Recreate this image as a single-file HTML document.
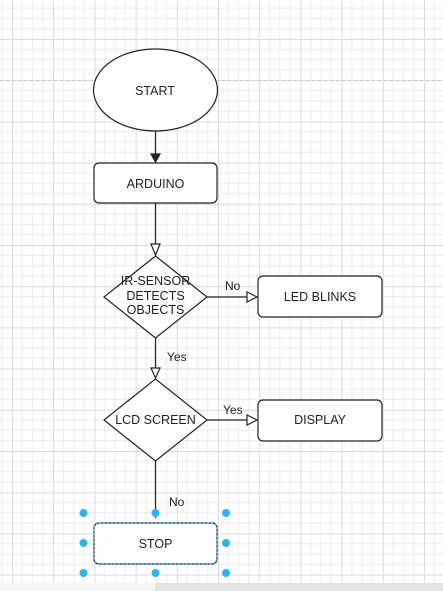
<!DOCTYPE html>
<html><head><style>body{margin:0;background:#fff}svg{display:block}</style></head><body>
<svg width="443" height="591" xmlns="http://www.w3.org/2000/svg" font-family="Liberation Sans, sans-serif" font-size="12" fill="#222">
<defs>
<pattern id="g" x="12" y="39" width="41.2" height="41.2" patternUnits="userSpaceOnUse">
<path d="M10.3 0V41.2M20.6 0V41.2M30.9 0V41.2M0 10.3H41.2M0 20.6H41.2M0 30.9H41.2" stroke="#ececec" stroke-width="1" fill="none"/>
<path d="M0.5 0V41.2M0 0.5H41.2" stroke="#dcdcdc" stroke-width="1" fill="none"/>
</pattern>
</defs>
<rect width="443" height="591" fill="url(#g)"/>
<line x1="0" y1="80.5" x2="443" y2="80.5" stroke="#ccc" stroke-dasharray="3,3"/>
<rect x="155" y="583" width="288" height="8" fill="#e3e3e3"/>
<rect x="0" y="583" width="155" height="8" fill="#f7f7f7"/>
<g stroke="#222" stroke-width="1.2" fill="#fff">
<ellipse cx="155.5" cy="90" rx="62" ry="41"/>
<rect x="94" y="163" width="123" height="40" rx="5"/>
<polygon points="155.5,256 207,297 155.5,338 104,297"/>
<rect x="258" y="276" width="124" height="41" rx="5"/>
<polygon points="155.5,379 207,420 155.5,461 104,420"/>
<rect x="258" y="400" width="124" height="41" rx="5"/>
<rect x="94" y="523" width="123" height="41" rx="5"/>
<line x1="155.5" y1="131" x2="155.5" y2="154"/>
<line x1="155.5" y1="203" x2="155.5" y2="244"/>
<line x1="207" y1="297" x2="247" y2="297"/>
<line x1="155.5" y1="338" x2="155.5" y2="368"/>
<line x1="207" y1="420" x2="247" y2="420"/>
<line x1="155.5" y1="461" x2="155.5" y2="518"/>
</g>
<g stroke="#222" stroke-width="1.2">
<polygon points="151,154 160,154 155.5,162" fill="#222"/>
<polygon points="151,244 160,244 155.5,255" fill="#fff"/>
<polygon points="247,292 247,302 257,297" fill="#fff"/>
<polygon points="151,368 160,368 155.5,378" fill="#fff"/>
<polygon points="247,415 247,425 257,420" fill="#fff"/>
</g>
<rect x="94" y="523" width="123" height="41" rx="5" fill="none" stroke="#29b6f6" stroke-dasharray="2,2"/>
<g fill="#29b6f6">
<circle cx="83.5" cy="513" r="4"/><circle cx="155.5" cy="513" r="4"/><circle cx="226" cy="513" r="4"/>
<circle cx="83.5" cy="543" r="4"/><circle cx="226" cy="543" r="4"/>
<circle cx="83.5" cy="573" r="4"/><circle cx="155.5" cy="573" r="4"/><circle cx="226" cy="573" r="4"/>
</g>
<g text-anchor="middle" font-size="12.5">
<text x="155" y="95">START</text>
<text x="155.5" y="188">ARDUINO</text>
<text x="155.5" y="285">IR-SENSOR</text>
<text x="155.5" y="300">DETECTS</text>
<text x="155.5" y="314">OBJECTS</text>
<text x="320" y="301">LED BLINKS</text>
<text x="155.5" y="424">LCD SCREEN</text>
<text x="320" y="424">DISPLAY</text>
<text x="155.5" y="548">STOP</text>
</g>
<text x="225" y="290">No</text>
<text x="167" y="361">Yes</text>
<text x="223" y="414">Yes</text>
<text x="169" y="506">No</text>
</svg>
</body></html>
